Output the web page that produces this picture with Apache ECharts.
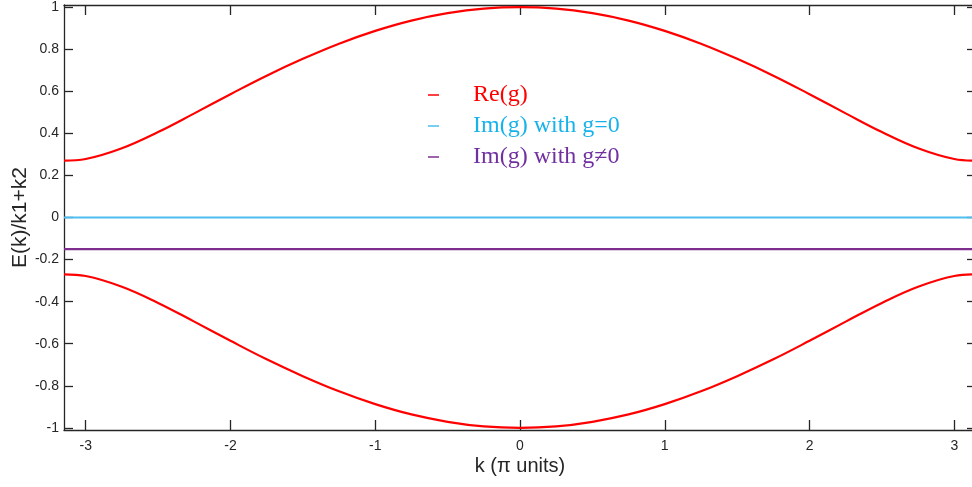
<!DOCTYPE html>
<html>
<head>
<meta charset="utf-8">
<title>E(k) band structure</title>
<script src="https://cdn.jsdelivr.net/npm/echarts@6/dist/echarts.min.js"></script>
<style>
  html, body { margin: 0; padding: 0; background: #fff; }
  #chart { width: 972px; height: 487px; }
</style>
</head>
<body>
<div id="chart"></div>
<script>
// Wavevector samples (axis shows k in π units)
const kValues = [-3.15, -3.0, -2.75, -2.5, -2.25, -2.0, -1.75, -1.5, -1.25, -1.0, -0.75, -0.5, -0.25,
                 0, 0.25, 0.5, 0.75, 1.0, 1.25, 1.5, 1.75, 2.0, 2.25, 2.5, 2.75, 3.0, 3.15];

// Upper and lower bands of E(k)/(k1+k2)
const upperBand = [0.270, 0.278, 0.329, 0.406, 0.495, 0.586, 0.674, 0.754, 0.826, 0.887, 0.936, 0.971, 0.993,
                   1.000, 0.993, 0.971, 0.936, 0.887, 0.826, 0.754, 0.674, 0.586, 0.495, 0.406, 0.329, 0.278, 0.270];
const lowerBand = [-0.270, -0.278, -0.329, -0.406, -0.495, -0.586, -0.674, -0.754, -0.826, -0.887, -0.936, -0.971, -0.993,
                   -1.000, -0.993, -0.971, -0.936, -0.887, -0.826, -0.754, -0.674, -0.586, -0.495, -0.406, -0.329, -0.278, -0.270];

// Imaginary parts: flat lines
const imZeroK = [-3.15, 3.15];
const imZero = [0, 0];
const imNonZeroK = [-3.15, 3.15];
const imNonZero = [-0.15, -0.15];

// Tick labels
const xTicks = [-3, -2, -1, 0, 1, 2, 3];
const yTicks = [-1, -0.8, -0.6, -0.4, -0.2, 0, 0.2, 0.4, 0.6, 0.8, 1];

const seriesNames = ['Re(g)', 'Im(g) with g=0', 'Im(g) with g\u22600'];

const pairs = (xs, ys) => xs.map((x, i) => [x, ys[i]]);

const textColor = '#262626';
const RED = '#ff0000';
const CYAN = '#4dbeee';
const PURPLE = '#7e2f8e';
const SANS = '"Liberation Sans", Arial, sans-serif';

const chart = echarts.init(document.getElementById('chart'), null, { renderer: 'canvas' });

const xRange = { min: -3.15, max: 3.15 };
const yRange = { min: -1.01, max: 1.01 };

chart.setOption({
  animation: false,
  backgroundColor: '#ffffff',
  grid: { left: 64, right: -4, top: 5, bottom: 57, containLabel: false, outerBoundsMode: 'none' },
  legend: {
    orient: 'vertical',
    left: 428,
    top: 83,
    padding: 0,
    icon: 'rect',
    itemWidth: 11,
    itemHeight: 1.5,
    itemGap: 7,
    textStyle: {
      fontFamily: '"Liberation Serif", "DejaVu Serif", serif',
      fontSize: 24,
      lineHeight: 24,
      padding: [0, 0, 0, 29]
    },
    data: [
      { name: seriesNames[0], textStyle: { color: RED } },
      { name: seriesNames[1], textStyle: { color: '#18b2ea' } },
      { name: seriesNames[2], textStyle: { color: '#7030a0' } }
    ]
  },
  xAxis: [
    {
      type: 'value',
      min: xRange.min, max: xRange.max,
      position: 'bottom',
      name: 'k (\u03c0 units)',
      nameLocation: 'middle',
      nameGap: 26,
      nameMoveOverlap: false,
      nameTextStyle: { color: textColor, fontFamily: SANS, fontSize: 20 },
      axisLine: { show: true, onZero: false, lineStyle: { color: textColor, width: 1.3 } },
      axisTick: { show: true, inside: true, length: 10, customValues: xTicks, lineStyle: { color: textColor, width: 1.3 } },
      axisLabel: { show: true, customValues: xTicks, margin: 9, color: textColor, fontFamily: SANS, fontSize: 14 },
      splitLine: { show: false }
    },
    {
      type: 'value',
      min: xRange.min, max: xRange.max,
      position: 'top',
      axisLine: { show: true, onZero: false, lineStyle: { color: textColor, width: 1.3 } },
      axisTick: { show: true, inside: true, length: 10, customValues: xTicks, lineStyle: { color: textColor, width: 1.3 } },
      axisLabel: { show: false },
      splitLine: { show: false }
    }
  ],
  yAxis: [
    {
      type: 'value',
      min: yRange.min, max: yRange.max,
      position: 'left',
      name: 'E(k)/k1+k2',
      nameLocation: 'middle',
      nameGap: 33,
      nameMoveOverlap: false,
      nameTextStyle: { color: textColor, fontFamily: SANS, fontSize: 21 },
      axisLine: { show: true, onZero: false, lineStyle: { color: textColor, width: 1.3 } },
      axisTick: { show: true, inside: true, length: 9, customValues: yTicks, lineStyle: { color: textColor, width: 1.3 } },
      axisLabel: { show: true, customValues: yTicks, margin: 5, color: textColor, fontFamily: SANS, fontSize: 14 },
      splitLine: { show: false }
    },
    {
      type: 'value',
      min: yRange.min, max: yRange.max,
      position: 'right',
      axisLine: { show: true, onZero: false, lineStyle: { color: textColor, width: 1.3 } },
      axisTick: { show: true, inside: true, length: 9, customValues: yTicks, lineStyle: { color: textColor, width: 1.3 } },
      axisLabel: { show: false },
      splitLine: { show: false }
    }
  ],
  series: [
    {
      name: seriesNames[0], type: 'line', smooth: 0.4, showSymbol: false,
      data: pairs(kValues, upperBand),
      lineStyle: { color: RED, width: 2.2 }, itemStyle: { color: RED }
    },
    {
      name: seriesNames[0], type: 'line', smooth: 0.4, showSymbol: false,
      data: pairs(kValues, lowerBand),
      lineStyle: { color: RED, width: 2.2 }, itemStyle: { color: RED }
    },
    {
      name: seriesNames[1], type: 'line', showSymbol: false,
      data: pairs(imZeroK, imZero),
      lineStyle: { color: CYAN, width: 2.2 }, itemStyle: { color: CYAN }
    },
    {
      name: seriesNames[2], type: 'line', showSymbol: false,
      data: pairs(imNonZeroK, imNonZero),
      lineStyle: { color: PURPLE, width: 2.2 }, itemStyle: { color: PURPLE }
    }
  ]
});
</script>
</body>
</html>
